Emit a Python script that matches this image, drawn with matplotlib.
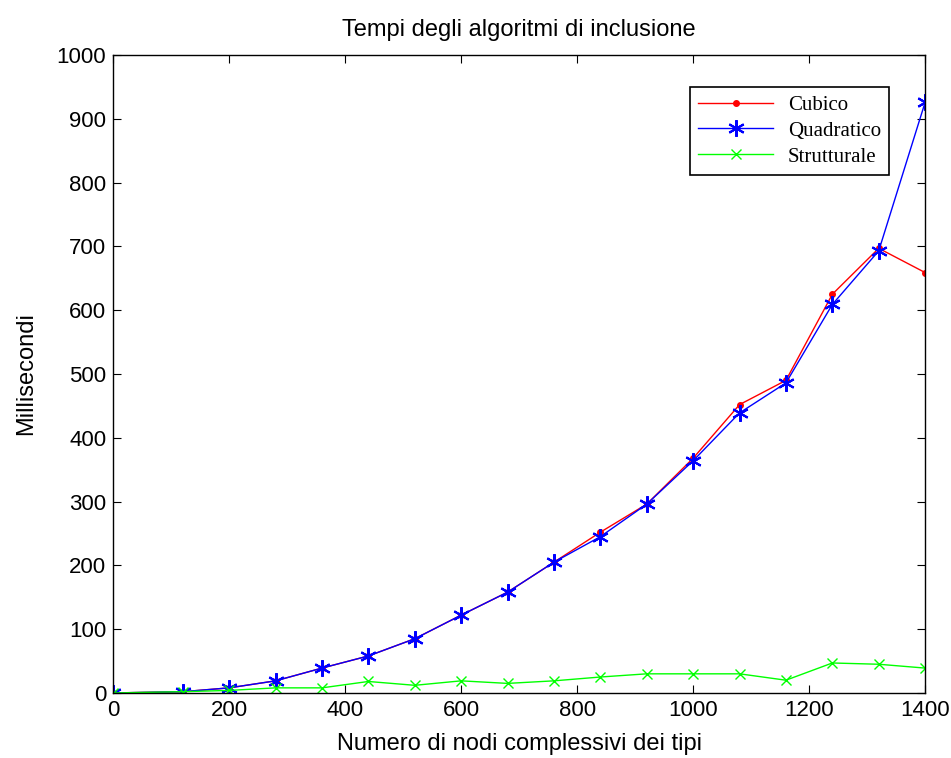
import matplotlib
matplotlib.use("Agg")
import matplotlib.pyplot as plt

x = [0, 120, 200, 280, 360, 440, 520, 600, 680, 760, 840, 920, 1000, 1080, 1160, 1240, 1320, 1400]
cubico = [0, 2, 8, 19, 39, 58, 85, 122, 158, 205, 252, 296, 368, 452, 490, 625, 697, 659]
quadratico = [0, 2, 8, 19, 39, 58, 85, 122, 158, 205, 245, 296, 364, 439, 486, 609, 693, 926]
strutturale = [0, 2, 4, 8, 8, 18, 12, 19, 15, 19, 25, 30, 30, 30, 20, 47, 45, 39]

fig = plt.figure(figsize=(9.51, 7.58), dpi=100)
ax = fig.add_axes([0.119, 0.0858, 0.8538, 0.8416])
sans = "Liberation Sans"

ax.plot(x, cubico, color="red", marker=".", markersize=8, lw=1, label="Cubico")
ax.plot(x, quadratico, color="blue", marker=(6, 2, 0), markersize=12, markeredgewidth=1.5,
        lw=1, label="Quadratico")
ax.plot(x, strutturale, color="#00ff00", marker="x", markersize=7, lw=1, label="Strutturale")

ax.set_xlim(0, 1400)
ax.set_ylim(0, 1000)
ax.set_xticks(range(0, 1401, 200))
ax.set_yticks(range(0, 1001, 100))
ax.tick_params(direction="in", length=6, labelsize=16, top=True, right=True, pad=5)
for lab in ax.get_xticklabels() + ax.get_yticklabels():
    lab.set_family(sans)
for s in ax.spines.values():
    s.set_linewidth(1)

ax.set_title("Tempi degli algoritmi di inclusione", fontsize=17, family=sans, pad=14)
ax.set_xlabel("Numero di nodi complessivi dei tipi", fontsize=17, family=sans, labelpad=9)
ax.set_ylabel("Millisecondi", fontsize=17, family=sans, labelpad=14)

leg = ax.legend(loc="upper right", bbox_to_anchor=(0.956, 0.95), prop={"family": "Liberation Serif", "size": 15},
                fancybox=False, edgecolor="black", framealpha=1, handlelength=3.6, handletextpad=0.7,
                borderpad=0.4, labelspacing=0.3, borderaxespad=0)
leg.get_frame().set_linewidth(1.2)

fig.savefig("out.png", dpi=100)
